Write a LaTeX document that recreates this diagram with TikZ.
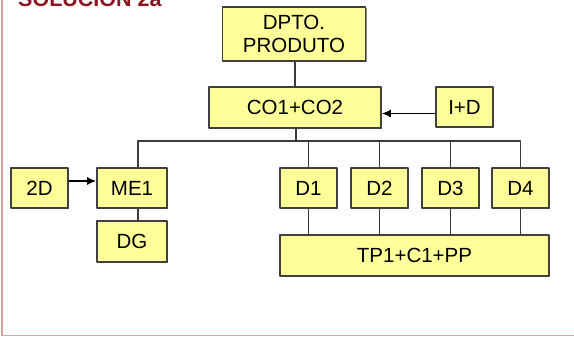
\documentclass[tikz,border=0pt]{standalone}
\usepackage{fontspec}
\setmainfont{Liberation Sans}
\usepackage{tikz}
\usetikzlibrary{positioning,calc,arrows,arrows.meta,shadows}
\definecolor{boxyellow}{RGB}{255,255,153}
\definecolor{boxline}{RGB}{64,64,64}
\definecolor{linkgray}{RGB}{60,60,60}
\definecolor{framepink}{RGB}{218,160,160}
\definecolor{titlered}{RGB}{140,22,30}

\begin{document}
\begin{tikzpicture}[x=1pt,y=-1pt,join=round]
		\tikzstyle{unit}=[draw=boxline, fill=boxyellow, line width=1.6pt, inner sep=0pt, align=center,
			font=\fontsize{20.5}{23}\selectfont, drop shadow={shadow xshift=1.2pt,shadow yshift=-1.2pt,fill=black!45,opacity=1}];
		\tikzstyle{link}=[draw=linkgray, line width=1.5pt];
		\tikzstyle{arr}=[-{Latex[length=9pt,width=8pt]}, line width=1.5pt, black];
		\tikzstyle{frame}=[draw=framepink, line width=1.6pt];
		
		\useasboundingbox (0,0) rectangle (574,337);
		\begin{scope}
			\clip (0,0) rectangle (574,337);
			\node[anchor=base west, inner sep=0pt, text=titlered, font=\fontsize{21.5}{24}\selectfont\bfseries] (title) at (18,7) {SOLUCIÓN 2a};
			\draw[frame] (2,-5) -- (2,335.5) -- (580,335.5);
		\end{scope}
		
		% boxes
		\node[unit, minimum width=143, minimum height=54] (dpto) at (294,34) {DPTO.\\PRODUTO};
		\node[unit, minimum width=172, minimum height=41] (co) at (295,107.5) {CO1+CO2};
		\node[unit, minimum width=57, minimum height=40] (id) at (464.5,107) {I+D};
		\node[unit, minimum width=57, minimum height=40] (twod) at (39.5,188) {2D};
		\node[unit, minimum width=70, minimum height=40] (me) at (132,188) {ME1};
		\node[unit, minimum width=70, minimum height=41] (dg) at (132,241.5) {DG};
		\foreach \i/\x in {1/308.5,2/379.5,3/450.5,4/520.5}
			\node[unit, minimum width=57, minimum height=40] (d\i) at (\x,188) {D\i};
		\node[unit, minimum width=269, minimum height=41] (tp) at (414.5,255.5) {TP1+C1+PP};
		
		% connectors
		\coordinate (bus) at (296,141);
		\draw[link] ([xshift=1pt]dpto.south) -- ([xshift=1pt]dpto.south |- co.north);
		\draw[link] ([xshift=1pt]co.south) -- ([xshift=1pt]co.south |- bus);
		\draw[link] ([xshift=6pt]me.north) |- (d4.north |- bus) -- (d4.north);
		\foreach \i in {1,2,3}
			\draw[link] (d\i.north) -- (d\i.north |- bus);
		\foreach \i in {1,2,3,4}
			\draw[link] (d\i.south) -- (d\i.south |- tp.north);
		\draw[link] ([xshift=6pt]me.south) -- ([xshift=6pt]me.south |- dg.north);
		
		\draw[arr] ([yshift=-6.5pt]id.west) -- ([yshift=-6.5pt]id.west -| co.east);
		\draw[arr] ([yshift=7pt]twod.east) -- ([yshift=7pt]twod.east -| me.west);
\end{tikzpicture}
\end{document}
